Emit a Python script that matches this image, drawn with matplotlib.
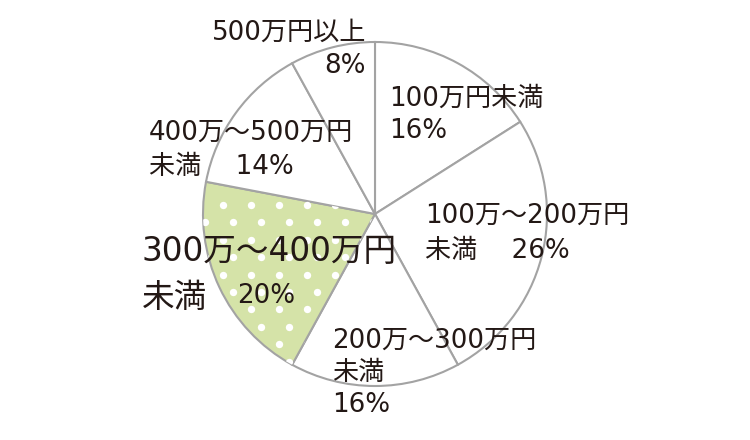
import matplotlib
matplotlib.use('Agg')
import matplotlib.pyplot as plt
import numpy as np

# wide latin digits from DejaVu, kana/kanji fall through to Noto CJK
plt.rcParams['font.family'] = ['DejaVu Sans', 'Noto Sans CJK JP']

labels = ['100万円未満', '100万～200万円未満', '200万～300万円未満',
          '300万～400万円未満', '400万～500万円未満', '500万円以上']
shares = [16, 26, 16, 20, 14, 8]
highlight = 3

W, H = 750, 440
fig = plt.figure(figsize=(W / 100, H / 100), dpi=100)
ax = fig.add_axes([0, 0, 1, 1])

cx, cy, r = 375, H - 214, 172
green = '#d5e3a8'
edge = '#a3a3a3'
txt = '#231815'

colors = ['white'] * len(shares)
colors[highlight] = green
wedges, _ = ax.pie(shares, colors=colors, startangle=90, counterclock=False,
                   center=(cx, cy), radius=r, frame=True,
                   wedgeprops=dict(edgecolor=edge, linewidth=1.5))
ax.set_xlim(0, W)
ax.set_ylim(0, H)
ax.set_aspect('equal')
ax.axis('off')

# white polka dots inside the highlighted slice
xs, ys = [], []
for i, yy in enumerate(np.arange(H - 205, H - 400, -17.4)):
    off = 0 if i % 2 == 0 else 10
    for xx in np.arange(195 + off, 400, 28):
        xs.append(xx)
        ys.append(yy)
dots = ax.scatter(xs, ys, s=28, color='white', zorder=3, linewidths=0)
dots.set_clip_path(wedges[highlight])

fs = 18.8
kw = dict(fontsize=fs, color=txt, zorder=5, va='top')
ax.text(366, H - 20, '500万円以上\n8%', ha='right', linespacing=1.35, **kw)
ax.text(389, H - 86, '100万円未満\n16%', ha='left', linespacing=1.3, **kw)
ax.text(425, H - 203, '100万～200万円\n未満　 26%', ha='left', linespacing=1.45, **kw)
ax.text(332, H - 328, '200万～300万円\n未満\n16%', ha='left', linespacing=1.3, **kw)
ax.text(149, H - 120, '400万～500万円\n未満　 14%', ha='left', linespacing=1.4, **kw)

big = dict(fontsize=23.5, color=txt, zorder=5, va='top', ha='left')
ax.text(142, H - 235, '300万～400万円', **big)
ax.text(142, H - 281, '未満', **big)
ax.text(237, H - 283, '20%', ha='left', **kw)

fig.savefig('out.png', dpi=100)
